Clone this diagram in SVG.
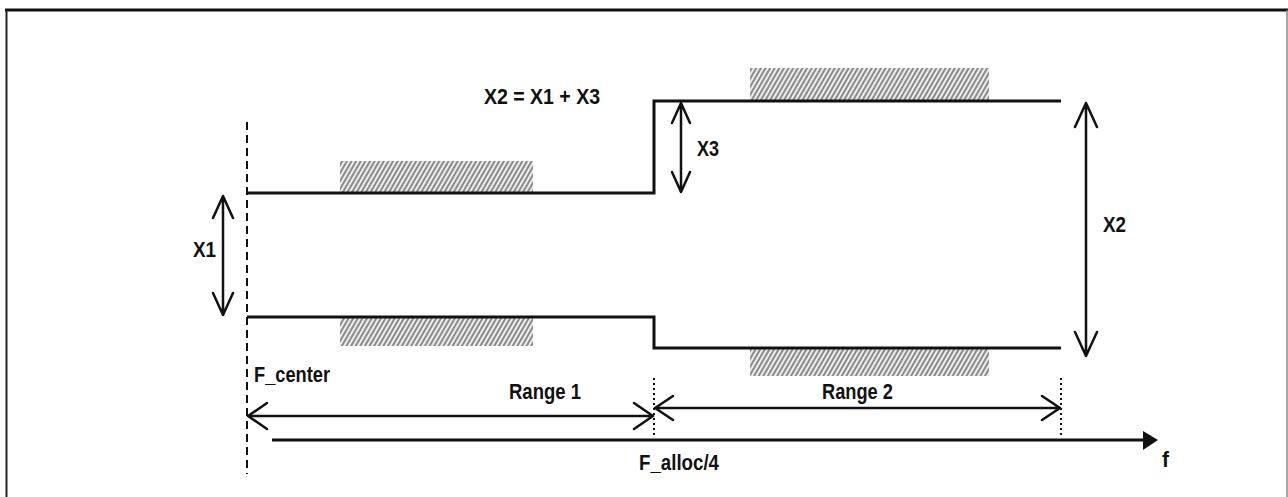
<svg xmlns="http://www.w3.org/2000/svg" width="1288" height="497" viewBox="0 0 1288 497">
  <style>
    .lbl { font-family: "Liberation Sans", Arial, sans-serif; font-weight: bold; font-size: 22px; fill: #111; }
    .prof { fill: none; stroke: #111; stroke-width: 3; }
    .arr { fill: none; stroke: #111; stroke-width: 2.5; stroke-linecap: round; stroke-linejoin: round; }
    .hatch { fill: url(#hatch); }
    .dot { stroke: #111; stroke-width: 2; stroke-dasharray: 2 3; }
  </style>
  <defs>
    <pattern id="hatch" patternUnits="userSpaceOnUse" width="4" height="8" patternTransform="rotate(30)">
      <rect width="4" height="8" fill="#ececec"/>
      <line x1="1" y1="0" x2="1" y2="8" stroke="#6a6a6a" stroke-width="1.5"/>
    </pattern>
  </defs>
  <rect width="1288" height="497" fill="#fff"/>

  <g id="frame">
    <line x1="5" y1="10" x2="1288" y2="10" stroke="#111" stroke-width="3"/>
    <line x1="6.5" y1="10" x2="6.5" y2="497" stroke="#222" stroke-width="2"/>
    <line x1="1287" y1="10" x2="1287" y2="497" stroke="#888" stroke-width="1.5"/>
  </g>

  <g id="hatches">
    <rect class="hatch" x="340" y="161" width="193" height="31"/>
    <rect class="hatch" x="340" y="318" width="193" height="28"/>
    <rect class="hatch" x="750" y="68" width="239" height="32"/>
    <rect class="hatch" x="750" y="349" width="239" height="27"/>
  </g>

  <g id="f-center-line">
    <line x1="247" y1="122" x2="247" y2="474" stroke="#111" stroke-width="2" stroke-dasharray="8 5"/>
  </g>

  <g id="upper-profile">
    <polyline class="prof" points="247,193 654,193 654,101 1061,101"/>
  </g>
  <g id="lower-profile">
    <polyline class="prof" points="247,317 654,317 654,348 1061,348"/>
  </g>

  <g id="range-markers">
    <line class="dot" x1="654" y1="378" x2="654" y2="438"/>
    <line class="dot" x1="1061" y1="378" x2="1061" y2="438"/>
  </g>

  <g id="connectors">
    <path class="arr" d="M223,196 V315 M213,218 L223,196 L233,218 M213,293 L223,315 L233,293"/>
    <path class="arr" d="M681,103 V192 M672,123 L681,103 L690,123 M672,172 L681,192 L690,172"/>
    <path class="arr" d="M1086,103 V356 M1075,127 L1086,103 L1097,127 M1075,332 L1086,356 L1097,332"/>
    <path class="arr" d="M248,416 H653 M267,403 L248,416 L267,429 M634,403 L653,416 L634,429"/>
    <path class="arr" d="M655,408 H1060 M673,396 L655,408 L673,420 M1042,396 L1060,408 L1042,420"/>
    <line x1="272" y1="440" x2="1145" y2="440" stroke="#111" stroke-width="3"/>
    <polygon points="1143,431 1158,440 1143,450" fill="#111"/>
  </g>

  <g id="labels">
    <text class="lbl" x="484" y="104" textLength="116" lengthAdjust="spacingAndGlyphs">X2 = X1 + X3</text>
    <text class="lbl" x="193" y="257" textLength="23" lengthAdjust="spacingAndGlyphs">X1</text>
    <text class="lbl" x="697" y="156" textLength="22" lengthAdjust="spacingAndGlyphs">X3</text>
    <text class="lbl" x="1103" y="232" textLength="23" lengthAdjust="spacingAndGlyphs">X2</text>
    <text class="lbl" x="254" y="382" textLength="76" lengthAdjust="spacingAndGlyphs">F_center</text>
    <text class="lbl" x="509" y="399" textLength="72" lengthAdjust="spacingAndGlyphs">Range 1</text>
    <text class="lbl" x="822" y="399" textLength="71" lengthAdjust="spacingAndGlyphs">Range 2</text>
    <text class="lbl" x="639" y="470" textLength="80" lengthAdjust="spacingAndGlyphs">F_alloc/4</text>
    <text class="lbl" x="1162" y="467" textLength="7" lengthAdjust="spacingAndGlyphs">f</text>
  </g>
</svg>
